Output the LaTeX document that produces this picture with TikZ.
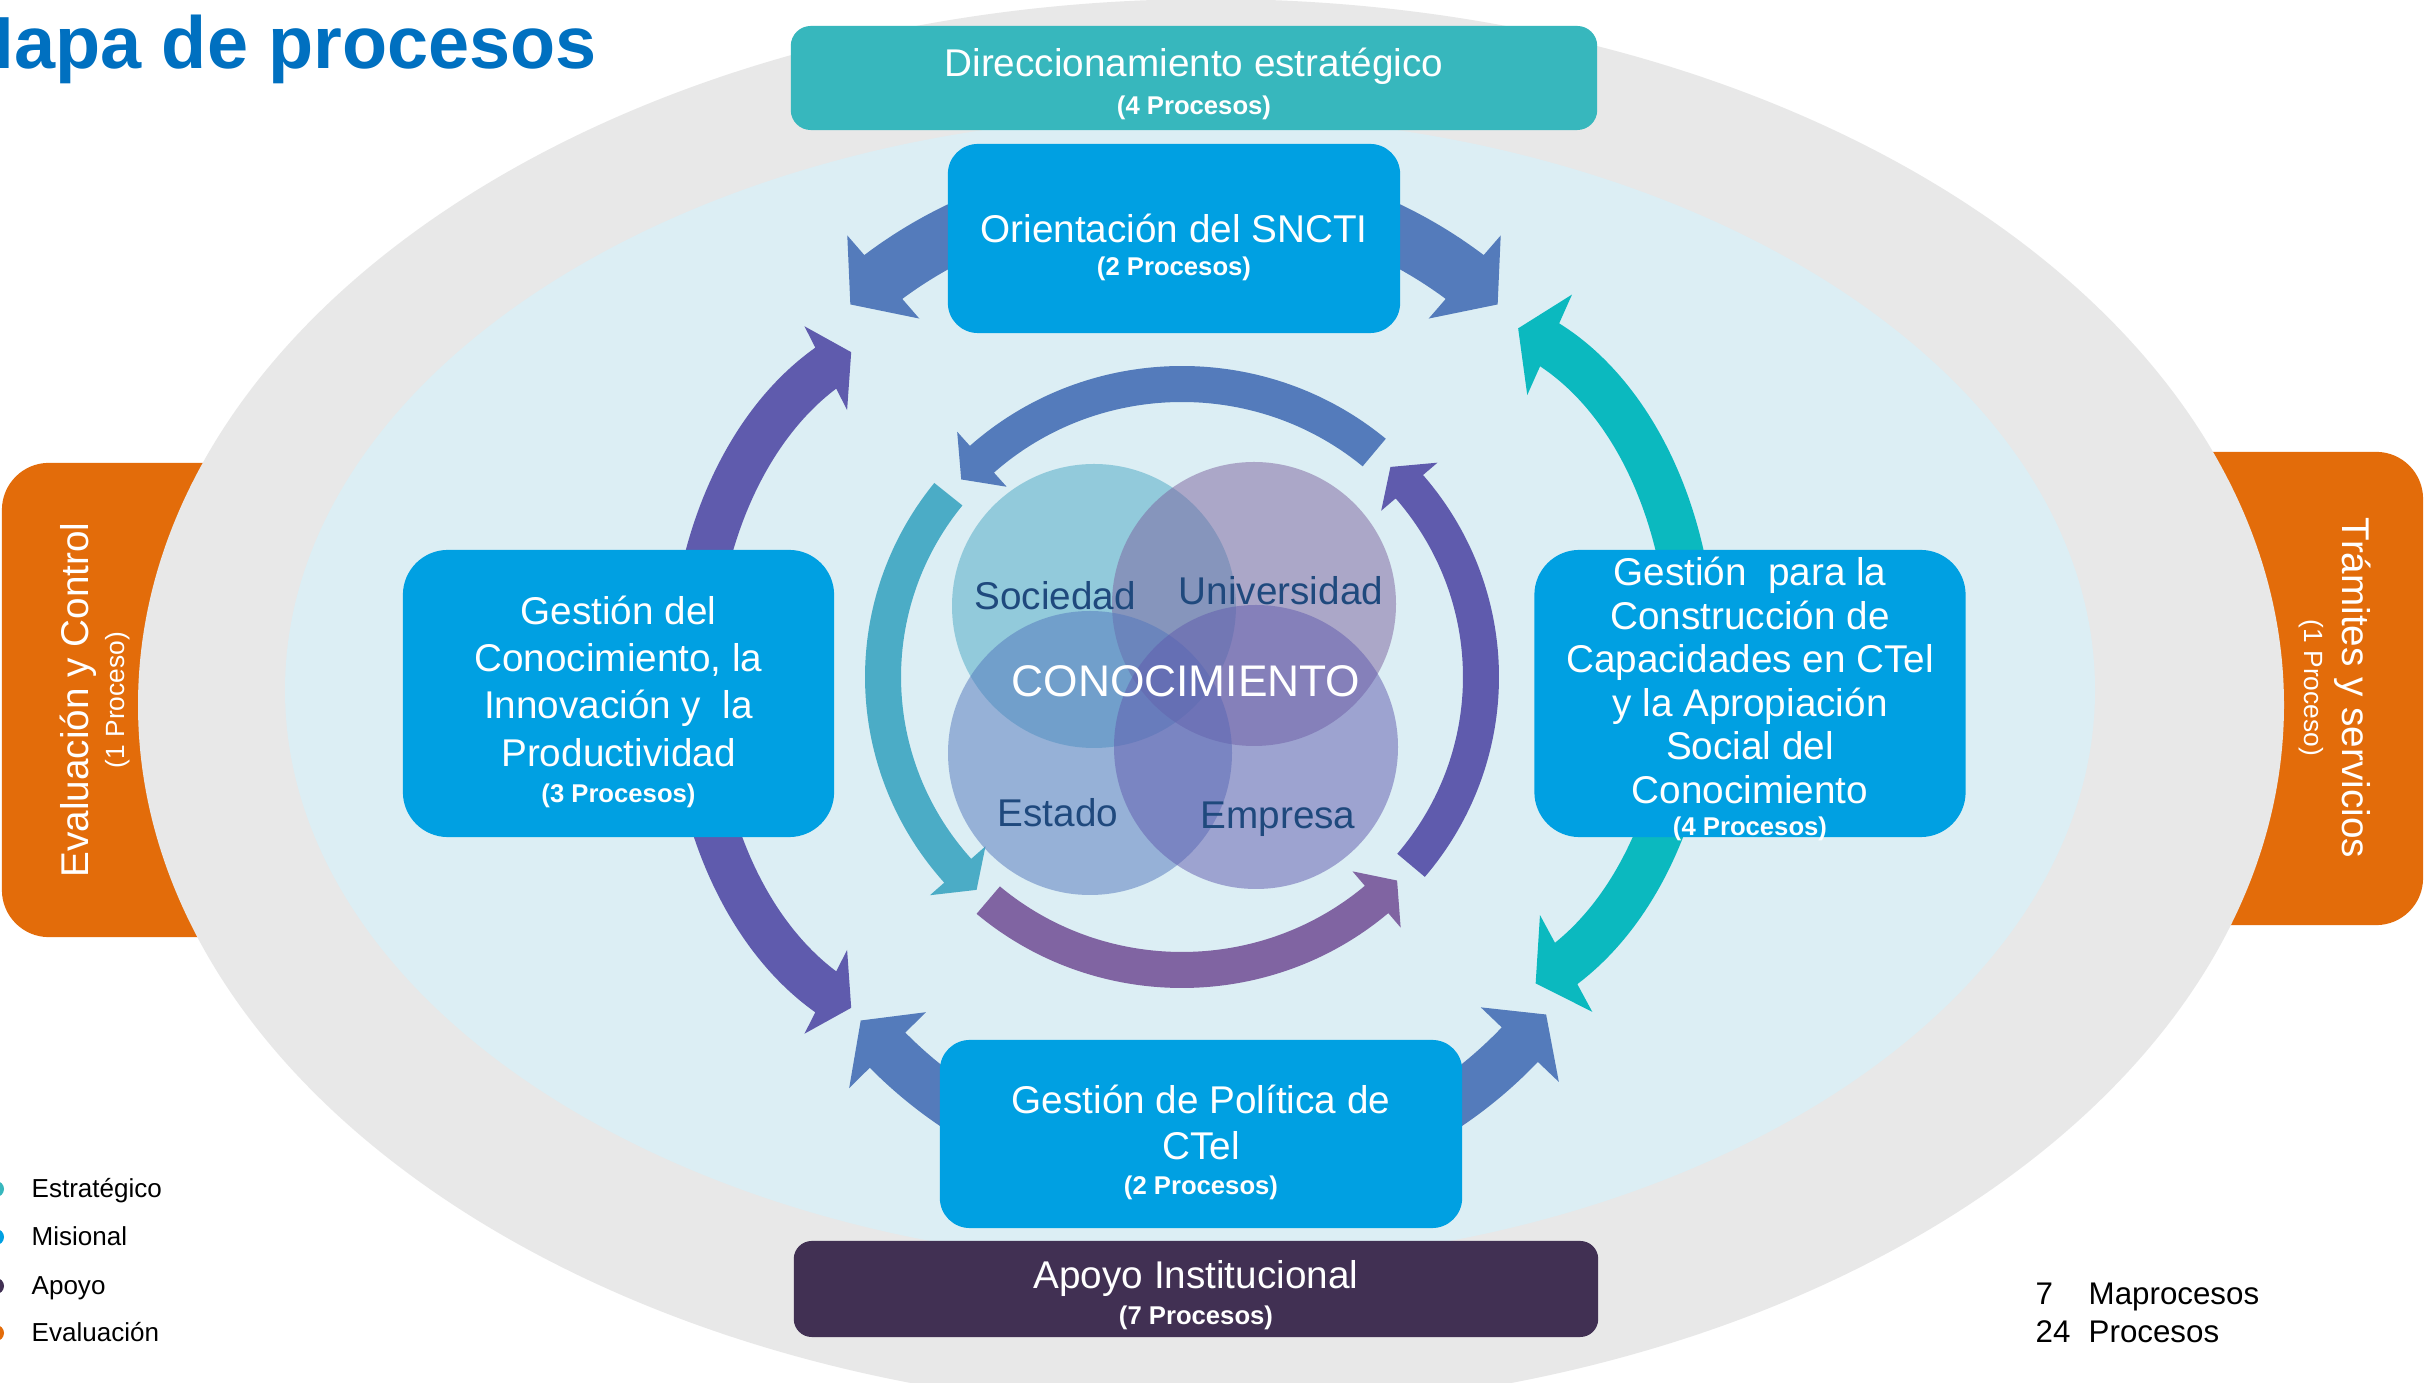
\documentclass[tikz,border=0pt]{standalone}
\usepackage{fontspec}
\setmainfont{Liberation Sans}
\usetikzlibrary{calc}
\definecolor{grayE}{HTML}{E8E8E8}
\definecolor{lightB}{HTML}{DCEEF4}
\definecolor{boxB}{HTML}{00A0E2}
\definecolor{tealH}{HTML}{37B7BD}
\definecolor{darkP}{HTML}{413053}
\definecolor{orng}{HTML}{E36C0A}
\definecolor{titleB}{HTML}{0070C0}
\definecolor{arrB}{HTML}{547BBB}
\definecolor{arrP}{HTML}{5F5BAD}
\definecolor{arrT}{HTML}{0BB9BF}
\definecolor{arrC}{HTML}{4BACC6}
\definecolor{arrM}{HTML}{8064A2}
\definecolor{vennTxt}{HTML}{1F497D}
\definecolor{cSoc}{RGB}{74,168,196}
\definecolor{cUni}{RGB}{124,98,158}
\definecolor{cEst}{RGB}{82,118,188}
\definecolor{cEmp}{RGB}{96,90,174}
\newcommand\arrhw{37}
% single headed curved band: color, cx, cy, rx, ry, half band, tail angle, head base angle, tip offset
\newcommand\sglarc[9]{%
  \fill[#1] ($(#2,-#3)+(#7:{#4+#6} and {#5+#6})$)
    arc[start angle=#7, end angle=#8, x radius={#4+#6}, y radius={#5+#6}]
    -- ($(#2,-#3)+(#8:{#4+\arrhw} and {#5+\arrhw})$)
    -- ($(#2,-#3)+({#8+#9}:{#4} and {#5})$)
    -- ($(#2,-#3)+(#8:{#4-\arrhw} and {#5-\arrhw})$)
    -- ($(#2,-#3)+(#8:{#4-#6} and {#5-#6})$)
    arc[start angle=#8, end angle=#7, x radius={#4-#6}, y radius={#5-#6}]
    -- cycle;}
% double headed curved band: color, cx, cy, rx, ry, half band, base angle 1, base angle 2, tip offset
\newcommand\dblarc[9]{%
  \fill[#1] ($(#2,-#3)+(#7:{#4+#6} and {#5+#6})$)
    arc[start angle=#7, end angle=#8, x radius={#4+#6}, y radius={#5+#6}]
    -- ($(#2,-#3)+(#8:{#4+\arrhw} and {#5+\arrhw})$)
    -- ($(#2,-#3)+({#8+#9}:{#4} and {#5})$)
    -- ($(#2,-#3)+(#8:{#4-\arrhw} and {#5-\arrhw})$)
    -- ($(#2,-#3)+(#8:{#4-#6} and {#5-#6})$)
    arc[start angle=#8, end angle=#7, x radius={#4-#6}, y radius={#5-#6}]
    -- ($(#2,-#3)+(#7:{#4-\arrhw} and {#5-\arrhw})$)
    -- ($(#2,-#3)+({#7-#9}:{#4} and {#5})$)
    -- ($(#2,-#3)+(#7:{#4+\arrhw} and {#5+\arrhw})$)
    -- cycle;}
\newcommand\subl[1]{{\fontsize{7.3}{8}\selectfont\bfseries #1}}
\newcommand\tstrut{\rule{0pt}{13pt}}
\begin{document}
\begin{tikzpicture}[x=0.01cm,y=0.01cm,
  box/.style={fill=boxB, rounded corners=0.3cm, text=white, align=center, inner sep=0pt,
    font=\fontsize{11}{13}\selectfont},
  obox/.style={fill=orng, rounded corners=0.47cm, inner sep=0pt},
  otext/.style={text=white, align=center, inner sep=0pt, font=\fontsize{11}{13}\selectfont},
  venntxt/.style={text=vennTxt, inner sep=0pt, anchor=base, font=\fontsize{11}{13}\selectfont},
  legdot/.style={circle, inner sep=0pt, minimum size=0.16cm},
  legtxt/.style={anchor=base west, inner sep=0pt, font=\fontsize{7.4}{9}\selectfont},
  cnt/.style={anchor=base west, inner sep=0pt, font=\fontsize{8.9}{10}\selectfont}]
\useasboundingbox (0,0) rectangle (2432,-1383);
\clip (0,0) rectangle (2432,-1383);
\fill[white] (0,0) rectangle (2432,-1383);

% side boxes (behind the big ellipse)
\node[obox, minimum width=2.98cm, minimum height=4.74cm] (eva) at (151,-700) {};
\node[obox, minimum width=2.73cm, minimum height=4.73cm] (tra) at (2286.5,-688.5) {};

% ellipses
\fill[grayE] (1211,-705) ellipse [x radius=1073, y radius=706];
\fill[lightB] (1190,-690) ellipse [x radius=905, y radius=575];

% outer arrows
\renewcommand\arrhw{55}
\dblarc{arrB}{1174}{568}{444}{385}{29}{49.1}{130.9}{5.9}
\renewcommand\arrhw{54}
\dblarc{arrB}{1201}{740}{441}{441}{25}{224.7}{316.3}{5.2}
\renewcommand\arrhw{47}
\dblarc{arrP}{937}{680}{245}{350}{23}{117}{243}{6.5}
\renewcommand\arrhw{55}
\dblarc{arrT}{1452}{660}{240}{345}{23.5}{-61.6}{66}{8}

% inner arrows
\renewcommand\arrhw{37}
\sglarc{arrB}{1182}{677}{299}{293}{18}{50}{132}{5.6}
\sglarc{arrC}{1182}{677}{299}{293}{18}{141.4}{221.4}{5.2}
\sglarc{arrM}{1182}{677}{299}{293}{18}{229.6}{310.6}{5.4}
\sglarc{arrP}{1182}{677}{299}{293}{18}{-40}{40.5}{5.3}

% venn
\fill[cSoc, fill opacity=0.5] (1094,-606) circle [radius=142];
\fill[cUni, fill opacity=0.5] (1254,-604) circle [radius=142];
\fill[cEst, fill opacity=0.5] (1090,-753) circle [radius=142];
\fill[cEmp, fill opacity=0.5] (1256,-747) circle [radius=142];
\node[venntxt] (soc) at (1055,-610) {Sociedad};
\node[venntxt] (uni) at (1281,-605) {Universidad};
\node[venntxt] (est) at (1058,-827) {Estado};
\node[venntxt] (emp) at (1278,-829) {Empresa};
\node[venntxt, text=white, font=\fontsize{12.6}{14}\selectfont] (con) at (1186,-697) {CONOCIMIENTO};

% process boxes
\node[box, fill=tealH, minimum width=8.06cm, minimum height=1.04cm, rounded corners=0.2cm] (dir) at (1194,-78)
  {\rule{0pt}{11.5pt}Direccionamiento estratégico\\[-2.2pt]\subl{(4 Procesos)}};
\node[box, minimum width=4.52cm, minimum height=1.89cm] (ori) at (1174,-238.5)
  {\tstrut Orientación del SNCTI\\[-3.6pt]\subl{(2 Procesos)}};
\node[box, minimum width=5.22cm, minimum height=1.88cm] (pol) at (1201,-1134)
  {\tstrut Gestión de Política de\\CTel\\[-3pt]\subl{(2 Procesos)}};
\node[box, fill=darkP, minimum width=8.04cm, minimum height=0.96cm, rounded corners=0.18cm] (apo) at (1196,-1289)
  {\rule{0pt}{11.5pt}Apoyo Institucional\\[-3pt]\subl{(7 Procesos)}};
\node[box, minimum width=4.31cm, minimum height=2.87cm, rounded corners=0.45cm,
  font=\fontsize{11}{13.4}\selectfont] (gco) at (618.5,-693.5)
  {\tstrut Gestión del\\Conocimiento, la\\Innovación y~ la\\Productividad\\[-3pt]\subl{(3 Procesos)}};
\node[box, minimum width=4.31cm, minimum height=2.87cm, rounded corners=0.45cm] (gca) at (1750,-693.5) {};
\node[text=white, align=center, inner sep=0pt, font=\fontsize{11}{12.4}\selectfont] (gcat) at (1750,-699)
  {Gestión~ para la\\Construcción de\\Capacidades en CTel\\y la Apropiación\\Social del\\Conocimiento\\[-3.3pt]\subl{(4 Procesos)}};

% side box texts
\node[otext, rotate=90] (evat) at (95,-700)
  {Evaluación y Control\\[-2.9pt]{\fontsize{7.5}{8}\selectfont (1 Proceso)}};
\node[otext, rotate=-90] (trat) at (2335,-688)
  {Trámites y servicios\\[-2.3pt]{\fontsize{7.5}{8}\selectfont (1 Proceso)}};

% title
\node[anchor=base west, inner sep=0pt, text=titleB, font=\fontsize{21}{25}\selectfont\bfseries] (title) at (-48,-69) {Mapa de procesos};

% legend
\node[legdot, fill=tealH] (d1) at (-4,-1189) {};
\node[legdot, fill=boxB] (d2) at (-4,-1237) {};
\node[legdot, fill=darkP] (d3) at (-4,-1286) {};
\node[legdot, fill=orng] (d4) at (-4,-1333) {};
\node[legtxt] (l1) at (31,-1198) {Estratégico};
\node[legtxt] (l2) at (31,-1246) {Misional};
\node[legtxt] (l3) at (31,-1295) {Apoyo};
\node[legtxt] (l4) at (31,-1342) {Evaluación};

% counts
\node[cnt] (n1) at (2035,-1305) {7};
\node[cnt] (t1) at (2088,-1305) {Maprocesos};
\node[cnt] (n2) at (2035,-1343) {24};
\node[cnt] (t2) at (2088,-1343) {Procesos};
\end{tikzpicture}
\end{document}
